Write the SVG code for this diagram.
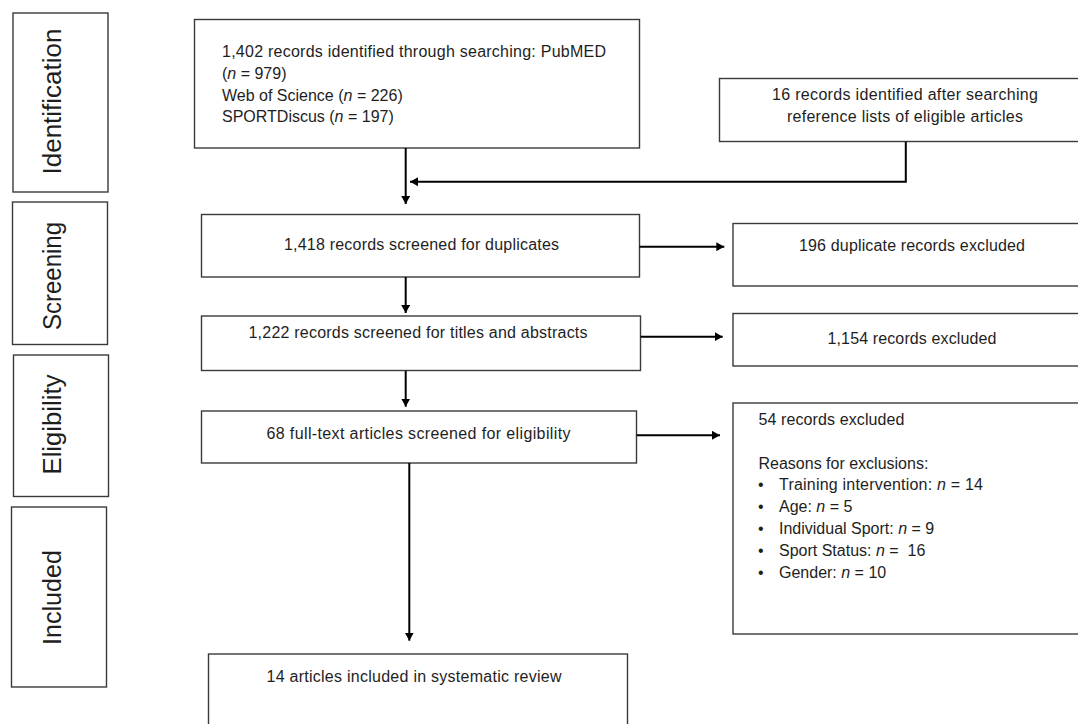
<svg xmlns="http://www.w3.org/2000/svg" width="1078" height="724" viewBox="0 0 1078 724">
<defs>
<style>
.box{fill:#ffffff;stroke:#3a3a3a;stroke-width:1.4}
.t{font-family:"Liberation Sans",Arial,sans-serif;font-size:16px;fill:#1e1e1e}
.c{text-anchor:middle}
.lbl{font-family:"Liberation Sans",Arial,sans-serif;font-size:26px;fill:#1e1e1e;text-anchor:middle}
.i{font-style:italic}
.conn{fill:none;stroke:#000000;stroke-width:2}
</style>
<marker id="ah" markerUnits="userSpaceOnUse" markerWidth="9" markerHeight="9" refX="8" refY="4.5" orient="auto">
<path d="M0,0 L8,4.5 L0,9 z" fill="#000000"/>
</marker>
</defs>
<rect width="1078" height="724" fill="#ffffff"/>

<g id="stage-identification">
<rect class="box" x="13" y="13" width="95" height="179"/>
<text class="lbl" transform="translate(61,101.5) rotate(-90)" textLength="146" lengthAdjust="spacingAndGlyphs">Identification</text>
</g>
<g id="stage-screening">
<rect class="box" x="12.5" y="202" width="95" height="142.5"/>
<text class="lbl" transform="translate(61,276) rotate(-90)" textLength="108" lengthAdjust="spacingAndGlyphs">Screening</text>
</g>
<g id="stage-eligibility">
<rect class="box" x="13.5" y="355" width="95" height="141.5"/>
<text class="lbl" transform="translate(61,424.5) rotate(-90)" textLength="100" lengthAdjust="spacingAndGlyphs">Eligibility</text>
</g>
<g id="stage-included">
<rect class="box" x="11.5" y="507" width="95" height="180"/>
<text class="lbl" transform="translate(61,597.5) rotate(-90)" textLength="95" lengthAdjust="spacingAndGlyphs">Included</text>
</g>

<g id="node-search">
<rect class="box" x="194.5" y="19.5" width="445" height="128.5"/>
<text class="t" x="222" y="57" textLength="384">1,402 records identified through searching: PubMED</text>
<text class="t" x="222" y="78.5">(<tspan class="i">n</tspan> = 979)</text>
<text class="t" x="222" y="100.5">Web of Science (<tspan class="i">n</tspan> = 226)</text>
<text class="t" x="222" y="122">SPORTDiscus (<tspan class="i">n</tspan> = 197)</text>
</g>

<g id="node-reflists">
<rect class="box" x="719.5" y="78.5" width="375" height="63"/>
<text class="t c" x="905" y="100" textLength="266">16 records identified after searching</text>
<text class="t c" x="905" y="121.5" textLength="236">reference lists of eligible articles</text>
</g>

<g id="node-duplicates">
<rect class="box" x="201.5" y="214.5" width="438" height="62.5"/>
<text class="t c" x="421.5" y="249.5" textLength="275">1,418 records screened for duplicates</text>
</g>

<g id="node-dup-excluded">
<rect class="box" x="733" y="223.5" width="360" height="62.5"/>
<text class="t c" x="912" y="251" textLength="226">196 duplicate records excluded</text>
</g>

<g id="node-titles">
<rect class="box" x="201.5" y="316" width="439" height="54.5"/>
<text class="t c" x="418" y="338" textLength="339">1,222 records screened for titles and abstracts</text>
</g>

<g id="node-titles-excluded">
<rect class="box" x="733" y="313.5" width="360" height="52.5"/>
<text class="t c" x="912" y="343.5" textLength="169">1,154 records excluded</text>
</g>

<g id="node-fulltext">
<rect class="box" x="201.5" y="411" width="435" height="52"/>
<text class="t c" x="418.5" y="438.5" textLength="304">68 full-text articles screened for eligibility</text>
</g>

<g id="node-fulltext-excluded">
<rect class="box" x="733" y="403" width="360" height="231"/>
<text class="t" x="758.5" y="424.5" textLength="146">54 records excluded</text>
<text class="t" x="758.5" y="468.5">Reasons for exclusions:</text>
<text class="t" x="758" y="490">•</text>
<text class="t" x="779" y="490" textLength="204">Training intervention: <tspan class="i">n</tspan> = 14</text>
<text class="t" x="758" y="511.5">•</text>
<text class="t" x="779" y="511.5">Age: <tspan class="i">n</tspan> = 5</text>
<text class="t" x="758" y="533.5">•</text>
<text class="t" x="779" y="533.5">Individual Sport: <tspan class="i">n</tspan> = 9</text>
<text class="t" x="758" y="555.5">•</text>
<text class="t" x="779" y="555.5" xml:space="preserve">Sport Status: <tspan class="i">n</tspan> =  16</text>
<text class="t" x="758" y="577.5">•</text>
<text class="t" x="779" y="577.5">Gender: <tspan class="i">n</tspan> = 10</text>
</g>

<g id="node-included">
<rect class="box" x="208.5" y="654" width="419" height="90"/>
<text class="t c" x="414" y="681.5" textLength="295">14 articles included in systematic review</text>
</g>

<g id="connectors">
<line class="conn" x1="405.7" y1="148" x2="405.7" y2="204" marker-end="url(#ah)"/>
<polyline class="conn" points="905.8,141.7 905.8,181.7 410,181.7" marker-end="url(#ah)"/>
<line class="conn" x1="639.5" y1="246.7" x2="724.3" y2="246.7" marker-end="url(#ah)"/>
<line class="conn" x1="405.7" y1="277" x2="405.7" y2="313" marker-end="url(#ah)"/>
<line class="conn" x1="640.7" y1="336.7" x2="722.7" y2="336.7" marker-end="url(#ah)"/>
<line class="conn" x1="405.7" y1="370.7" x2="405.7" y2="406.7" marker-end="url(#ah)"/>
<line class="conn" x1="636.7" y1="435.3" x2="720" y2="435.3" marker-end="url(#ah)"/>
<line class="conn" x1="409.3" y1="463" x2="409.3" y2="640.7" marker-end="url(#ah)"/>
</g>
</svg>
